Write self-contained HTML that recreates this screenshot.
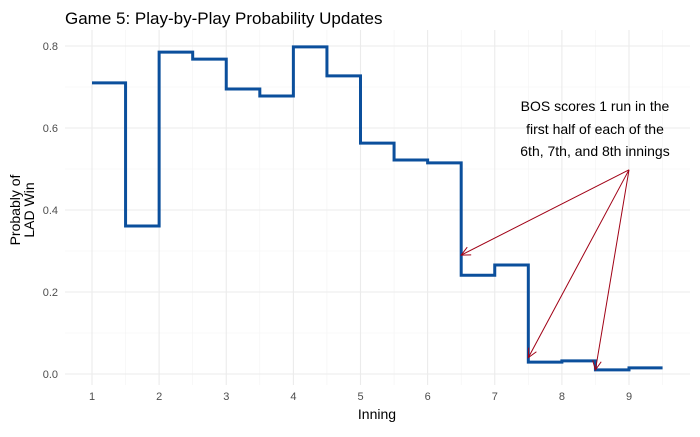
<!DOCTYPE html>
<html><head><meta charset="utf-8"><style>
body{margin:0;background:#fff;font-family:"Liberation Sans",sans-serif}
svg text{font-family:"Liberation Sans",sans-serif}
</style></head><body>
<svg id="chart" width="700" height="432">
<text x="65" y="24" font-size="17" fill="#000">Game 5: Play-by-Play Probability Updates</text>
<g id="grid"></g><g id="axes"></g><g id="series"></g><g id="annot"></g>
</svg>
<script>
const xStarts=[1,1.5,2,2.5,3,3.5,4,4.5,5,5.5,6,6.5,7,7.5,8,8.5,9];
const probs=[0.71,0.361,0.785,0.768,0.695,0.678,0.798,0.727,0.563,0.522,0.515,0.241,0.266,0.029,0.032,0.01,0.015];
const xTicks=[1,2,3,4,5,6,7,8,9];
const yTicks=[0,0.2,0.4,0.6,0.8];
const yTickLabels=["0.0","0.2","0.4","0.6","0.8"];
const arrowTargets=[[6.5,0.29],[7.5,0.04],[8.5,0.01]];
const arrowFrom=[9,0.498];
const NS="http://www.w3.org/2000/svg";
const X=v=>92+(v-1)*67.125, Y=v=>374-v*410;
const L=65,R=690,T=30,B=385;
function mk(tag,attrs,parent){const e=document.createElementNS(NS,tag);for(const k in attrs)e.setAttribute(k,attrs[k]);document.getElementById(parent).appendChild(e);return e;}
for(let v=0.1;v<0.85;v+=0.2){const l=mk('line',{x1:L,x2:R,y1:Y(v),y2:Y(v),stroke:'#f3f3f3','stroke-width':0.6},'grid');

}
for(let v=1.5;v<9.6;v+=1){const l=mk('line',{x1:X(v),x2:X(v),y1:T,y2:B,stroke:'#f3f3f3','stroke-width':0.6},'grid');

}
yTicks.forEach((v,i)=>{const l=mk('line',{x1:L,x2:R,y1:Y(v),y2:Y(v),stroke:'#ebebeb','stroke-width':1.1},'grid');


const t=mk('text',{x:58,y:Y(v)+4,'text-anchor':'end','font-size':11,fill:'#4d4d4d'},'axes');t.textContent=yTickLabels[i];

});
xTicks.forEach(v=>{const l=mk('line',{x1:X(v),x2:X(v),y1:T,y2:B,stroke:'#ebebeb','stroke-width':1.1},'grid');


const t=mk('text',{x:X(v),y:400,'text-anchor':'middle','font-size':11,fill:'#4d4d4d'},'axes');t.textContent=v;

});
let t=mk('text',{x:377,y:419,'text-anchor':'middle','font-size':14,fill:'#000'},'axes');t.textContent='Inning';


t=mk('text',{transform:'translate(20,210) rotate(-90)','text-anchor':'middle','font-size':14,fill:'#000'},'axes');
t.innerHTML='<tspan x="0" y="0">Probably of</tspan><tspan x="0" y="14">LAD Win</tspan>';


let d='';
probs.forEach((p,i)=>{const x0=X(xStarts[i]),x1=X(i+1<xStarts.length?xStarts[i+1]:xStarts[i]+0.5);d+=(i?'L':'M')+x0+','+Y(p)+'L'+x1+','+Y(p);});
const path=mk('path',{d:d,fill:'none',stroke:'#0b4f9c','stroke-width':3},'series');


const fx=X(arrowFrom[0]),fy=Y(arrowFrom[1]);
arrowTargets.forEach(([a,b])=>{const tx=X(a),ty=Y(b);const l=mk('line',{x1:fx,y1:fy,x2:tx,y2:ty,stroke:'#a00015','stroke-width':1},'annot');


const ang=Math.atan2(ty-fy,tx-fx),h=10;
const p=mk('path',{d:`M${tx-h*Math.cos(ang-0.45)},${ty-h*Math.sin(ang-0.45)}L${tx},${ty}L${tx-h*Math.cos(ang+0.45)},${ty-h*Math.sin(ang+0.45)}`,fill:'none',stroke:'#a00015','stroke-width':1},'annot');

});
t=mk('text',{'text-anchor':'middle','font-size':14,fill:'#000'},'annot');
t.innerHTML='<tspan x="595" y="111">BOS scores 1 run in the</tspan><tspan x="595" y="134">first half of each of the</tspan><tspan x="595" y="156">6th, 7th, and 8th innings</tspan>';


</script>
</body></html>
